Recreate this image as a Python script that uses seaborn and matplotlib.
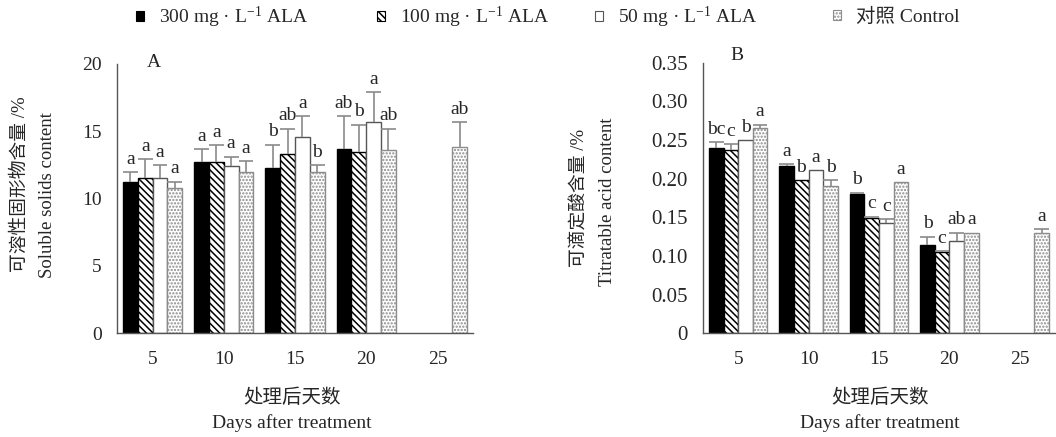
#!/usr/bin/env python3
"""Soluble solids and titratable acid after ALA treatment, grouped bars."""

import matplotlib

matplotlib.use("Agg")
import matplotlib.pyplot as plt
import numpy as np
import pandas as pd
import seaborn as sns
from matplotlib.patches import Patch

DAYS = ["5", "10", "15", "20", "25"]
GROUPS = ["300", "100", "50", "CK"]
GROUP_LABELS = [
    "300 mg · L$^{-1}$ ALA",
    "100 mg · L$^{-1}$ ALA",
    "50 mg · L$^{-1}$ ALA",
    "对照 Control",
]

# panel A: soluble solids content (%)
SSC_300 = [11.2, 12.7, 12.25, 13.7, None]
SSC_100 = [11.55, 12.7, 13.3, 13.45, None]
SSC_50 = [11.55, 12.4, 14.6, 15.7, None]
SSC_CK = [10.8, 11.95, 11.95, 13.6, 13.85]
SSC_300_SD = [0.75, 0.95, 1.75, 2.4, None]
SSC_100_SD = [1.35, 1.25, 1.9, 2.05, None]
SSC_50_SD = [0.95, 0.7, 1.5, 2.2, None]
SSC_CK_SD = [0.45, 0.85, 0.55, 1.6, 1.85]
SSC_300_SIG = ["a", "a", "b", "ab", None]
SSC_100_SIG = ["a", "a", "ab", "b", None]
SSC_50_SIG = ["a", "a", "a", "a", None]
SSC_CK_SIG = ["a", "a", "b", "ab", "ab"]

# panel B: titratable acid content (%)
TA_300 = [0.240, 0.217, 0.180, 0.114, None]
TA_100 = [0.237, 0.198, 0.1495, 0.1055, None]
TA_50 = [0.250, 0.211, 0.143, 0.119, None]
TA_CK = [0.2655, 0.1905, 0.1955, 0.130, 0.130]
TA_300_SD = [0.0075, 0.002, 0.002, 0.011, None]
TA_100_SD = [0.0075, 0.0, 0.0015, 0.0005, None]
TA_50_SD = [0.0, 0.0, 0.0045, 0.011, None]
TA_CK_SD = [0.0045, 0.0075, 0.0, 0.0, 0.0045]
TA_300_SIG = ["bc", "a", "b", "b", None]
TA_100_SIG = ["c", "b", "c", "c", None]
TA_50_SIG = ["b", "a", "c", "ab", None]
TA_CK_SIG = ["a", "b", "a", "a", "a"]

SSC_TICKS = [0, 5, 10, 15, 20]
TA_TICKS = [0, 0.05, 0.10, 0.15, 0.20, 0.25, 0.30, 0.35]
TA_TICKLABELS = ["0", "0.05", "0.10", "0.15", "0.20", "0.25", "0.30", "0.35"]

FACES = ["black", "white", "white", "white"]
EDGES = ["black", "black", "#555555", "#8c8c8c"]
HATCHES = ["", "\\\\\\\\\\", "", "....."]
SPINE = "#555555"
ERR = "#8a8a8a"
W = 0.83
FONTS = ["Liberation Serif", "Noto Sans CJK SC", "DejaVu Sans"]


def long_table(values, errors, letters):
    rows = []
    for g, vals, errs, sigs in zip(GROUPS, values, errors, letters):
        for day, v, e, s in zip(DAYS, vals, errs, sigs):
            if v is None:
                continue
            rows.append({"day": day, "group": g, "value": v, "sd": e, "sig": s})
    return pd.DataFrame(rows)


def draw_panel(ax, df, ylim, yticks, yticklabels, tag, tag_xy, ylabsize):
    sns.barplot(
        data=df, x="day", y="value", hue="group", order=DAYS, hue_order=GROUPS,
        palette=FACES, saturation=1, width=W, errorbar=None, legend=False, ax=ax,
    )
    step = W / len(GROUPS)
    lookup = df.set_index(["day", "group"])
    for bar in list(ax.patches):
        xc = bar.get_x() + bar.get_width() / 2
        cat = int(round(xc))
        k = int(round((xc - cat) / step + 1.5))
        bar.set_hatch(HATCHES[k])
        bar.set_edgecolor(EDGES[k])
        bar.set_linewidth(1.0)
        row = lookup.loc[(DAYS[cat], GROUPS[k])]
        top = row["value"] + row["sd"]
        if row["sd"] > 0:
            ax.vlines(xc, row["value"], top, color=ERR, linewidth=1.2, zorder=3)
            ax.hlines(top, bar.get_x(), bar.get_x() + bar.get_width(),
                      color=ERR, linewidth=1.2, zorder=3)
        ax.annotate(row["sig"], (xc, top), xytext=(0, 6), textcoords="offset points",
                    ha="center", va="baseline", fontsize=14, family=FONTS)

    ax.set_xlim(-0.5, len(DAYS) - 0.5)
    ax.set_ylim(*ylim)
    ax.set_yticks(yticks)
    ax.set_yticklabels(yticklabels)
    ax.set_xticks(range(len(DAYS)))
    ax.set_xticklabels(DAYS)
    ax.set_xticks(np.arange(0.5, len(DAYS), 1), minor=True)
    ax.tick_params(axis="x", which="major", length=0, pad=13, labelsize=14)
    ax.tick_params(axis="x", which="minor", direction="in", length=6, width=1, color=SPINE)
    ax.tick_params(axis="y", direction="in", length=5, width=1, color=SPINE,
                   pad=11, labelsize=ylabsize)
    ax.set_xlabel("")
    ax.set_ylabel("")
    for side in ["top", "right"]:
        ax.spines[side].set_visible(False)
    for side in ["left", "bottom"]:
        ax.spines[side].set_color(SPINE)
        ax.spines[side].set_linewidth(1.0)
    ax.text(*tag_xy, tag, transform=ax.transAxes, ha="center", va="center", fontsize=14)


def main():
    sns.set_style("white")
    plt.rcParams["font.family"] = FONTS
    plt.rcParams["mathtext.fontset"] = "custom"
    plt.rcParams["mathtext.rm"] = "Liberation Serif"
    plt.rcParams["mathtext.it"] = "Liberation Serif:italic"
    plt.rcParams["hatch.linewidth"] = 1.1
    plt.rcParams["axes.unicode_minus"] = False

    ssc = long_table([SSC_300, SSC_100, SSC_50, SSC_CK],
                     [SSC_300_SD, SSC_100_SD, SSC_50_SD, SSC_CK_SD],
                     [SSC_300_SIG, SSC_100_SIG, SSC_50_SIG, SSC_CK_SIG])
    ta = long_table([TA_300, TA_100, TA_50, TA_CK],
                    [TA_300_SD, TA_100_SD, TA_50_SD, TA_CK_SD],
                    [TA_300_SIG, TA_100_SIG, TA_50_SIG, TA_CK_SIG])

    fig = plt.figure(figsize=(10.56, 4.37), dpi=100)
    ax_a = fig.add_axes([117 / 1056, 104 / 437, 356 / 1056, 269 / 437])
    ax_b = fig.add_axes([703 / 1056, 103.7 / 437, 352 / 1056, 270.6 / 437])

    draw_panel(ax_a, ssc, (0, 20), SSC_TICKS, [str(t) for t in SSC_TICKS],
               "A", (0.104, 1.004), 14)
    draw_panel(ax_b, ta, (0, 0.35), TA_TICKS, TA_TICKLABELS, "B", (0.097, 1.025), 15)

    # y labels, two lines each
    fig.text(20 / 1056, 1 - 184.5 / 437, "可溶性固形物含量 /%", rotation=90,
             ha="center", va="center", fontsize=13.5)
    fig.text(48 / 1056, 1 - 195 / 437, "Soluble solids content", rotation=90,
             ha="center", va="center", fontsize=13.5)
    fig.text(580 / 1056, 1 - 197.5 / 437, "可滴定酸含量 /%", rotation=90,
             ha="center", va="center", fontsize=13.5)
    fig.text(608 / 1056, 1 - 202 / 437, "Titratable acid content", rotation=90,
             ha="center", va="center", fontsize=13.5)

    # x labels
    for xc in [292, 880]:
        fig.text(xc / 1056, 1 - 398 / 437, "处理后天数", ha="center", va="center", fontsize=14)
        fig.text(xc / 1056, 1 - 423 / 437, "Days after treatment", ha="center",
                 va="center", fontsize=14)

    # legend row
    for x_px, label, face, edge, hatch in zip([136, 377, 595, 833], GROUP_LABELS,
                                              FACES, EDGES, HATCHES):
        handle = Patch(facecolor=face, edgecolor=edge, hatch=hatch, linewidth=0.8)
        fig.legend([handle], [label], loc="center left",
                   bbox_to_anchor=(x_px / 1056, 1 - 17 / 437), frameon=False,
                   fontsize=14, handlelength=0.42, handleheight=0.42,
                   handletextpad=0.75, borderpad=0, borderaxespad=0)

    fig.savefig("out.png", dpi=100)
    plt.close(fig)


if __name__ == "__main__":
    main()
